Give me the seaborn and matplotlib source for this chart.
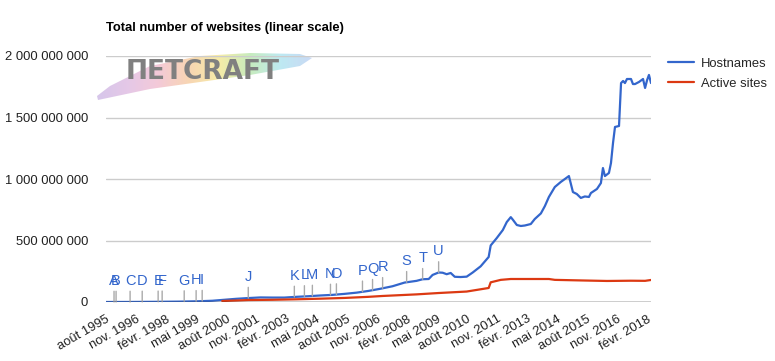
import numpy as np
import pandas as pd
import matplotlib
matplotlib.use("Agg")
import matplotlib.pyplot as plt
import matplotlib.dates as mdates
from matplotlib.colors import LinearSegmentedColormap
from matplotlib.patches import Polygon
import seaborn as sns

# Données (millions)
host_dates = ["1995-08", "1996-08", "1997-08", "1998-08", "1999-06", "2000-01", "2000-07",
              "2001-01", "2001-07", "2002-01", "2002-07", "2003-01", "2003-07", "2004-01",
              "2004-07", "2005-01", "2005-07", "2006-01", "2006-07", "2007-01", "2007-07",
              "2008-01", "2008-07", "2008-10", "2009-01", "2009-03", "2009-06", "2009-08",
              "2009-10", "2009-12", "2010-02", "2010-05", "2010-08", "2010-11", "2011-03",
              "2011-07", "2011-08", "2011-11", "2012-02", "2012-04", "2012-06", "2012-07",
              "2012-09", "2012-11", "2013-01", "2013-04", "2013-06", "2013-09", "2013-11",
              "2014-01", "2014-04", "2014-07", "2014-09", "2014-11", "2015-01", "2015-03",
              "2015-05", "2015-07", "2015-09", "2015-10", "2016-01", "2016-03", "2016-04",
              "2016-05", "2016-07", "2016-08", "2016-09", "2016-10", "2016-12", "2017-01",
              "2017-02", "2017-03", "2017-04", "2017-06", "2017-07", "2017-08", "2017-10",
              "2017-12", "2018-01", "2018-02", "2018-03", "2018-04"]
host_values = [0.02, 0.3, 1.4, 3, 6, 10, 18,
               26, 32, 37, 36, 36, 42, 47,
               53, 58, 66, 76, 90, 108, 128,
               158, 172, 185, 187, 220, 240, 238,
               226, 236, 205, 203, 206, 240, 290,
               366, 460, 520, 585, 650, 690, 670,
               626, 618, 622, 634, 675, 720, 780,
               854, 935, 976, 1000, 1024, 894, 878,
               846, 858, 854, 886, 919, 967, 1089,
               1024, 1049, 1130, 1293, 1423, 1431, 1780,
               1797, 1780, 1813, 1813, 1772, 1772, 1789,
               1813, 1740, 1805, 1846, 1780]

active_dates = ["2000-06", "2001-01", "2001-07", "2002-07", "2003-07", "2004-07", "2005-07",
                "2006-07", "2007-02", "2008-07", "2009-06", "2010-08", "2011-07", "2011-08",
                "2012-01", "2012-06", "2013-06", "2014-01", "2014-04", "2015-06", "2016-06",
                "2017-06", "2018-01", "2018-04"]
active_values = [8, 12, 16, 18, 22, 27, 33,
                 42, 49, 62, 73, 85, 114, 160,
                 180, 187, 187, 187, 180, 175, 171,
                 173, 172, 179]

letters = list("ABCDEFGHIJKLMNOPQRSTU")
letter_dates = ["1995-12", "1996-01", "1996-08", "1997-02", "1997-10", "1997-12", "1998-11",
                "1999-05", "1999-08", "2001-07", "2003-06", "2003-11", "2004-03", "2004-12",
                "2005-03", "2006-04", "2006-09", "2007-02", "2008-02", "2008-10", "2009-06"]

tick_dates = pd.date_range("1995-08-01", periods=19, freq="15MS")
tick_labels = ["août 1995", "nov. 1996", "févr. 1998", "mai 1999", "août 2000", "nov. 2001",
               "févr. 2003", "mai 2004", "août 2005", "nov. 2006", "févr. 2008", "mai 2009",
               "août 2010", "nov. 2011", "févr. 2013", "mai 2014", "août 2015", "nov. 2016",
               "févr. 2018"]
y_ticks = [0, 500e6, 1000e6, 1500e6, 2000e6]

sns.set_theme(style="white")
plt.rcParams["font.family"] = ["Liberation Sans", "DejaVu Sans"]

df = pd.concat([
    pd.DataFrame({"date": pd.to_datetime(host_dates), "n": np.array(host_values) * 1e6,
                  "serie": "Hostnames"}),
    pd.DataFrame({"date": pd.to_datetime(active_dates), "n": np.array(active_values) * 1e6,
                  "serie": "Active sites"}),
])

fig = plt.figure(figsize=(7.75, 3.61), dpi=100)

# logo Netcraft en filigrane (coordonnées en pixels)
ov = fig.add_axes([0, 0, 1, 1], zorder=0)
ov.set_xlim(0, 775)
ov.set_ylim(361, 0)
ov.axis("off")
rainbow = LinearSegmentedColormap.from_list(
    "rb", ["#c9b4e4", "#dcb6e0", "#f0b8cc", "#f6c89a", "#f3e58a", "#b5e6a8",
           "#a8e2ee", "#b8cdf2"])
grad = ov.imshow(np.linspace(0, 1, 256)[None, :], extent=(96, 312, 102, 48),
                 cmap=rainbow, aspect="auto", alpha=0.75)
stroke = Polygon([(110, 86), (150, 66), (200, 56), (250, 53), (300, 54), (312, 58),
                  (300, 66), (250, 75), (200, 82), (150, 89), (98, 100), (97, 96)],
                 closed=True, transform=ov.transData, facecolor="none", edgecolor="none")
ov.add_patch(stroke)
grad.set_clip_path(stroke)
ov.text(126, 72, "ΠETCRAFT", fontsize=19, fontweight="bold", color="#808080",
        va="center", ha="left", family="DejaVu Sans")

ax = fig.add_axes([106 / 775, 1 - 302 / 361, 545 / 775, 246 / 361], zorder=1)
ax.patch.set_alpha(0)

sns.lineplot(data=df, x="date", y="n", hue="serie", ax=ax, linewidth=1.6,
             palette={"Hostnames": "#3366cc", "Active sites": "#dc3912"})

# annotations A..U
hx = mdates.date2num(pd.to_datetime(host_dates))
for lt, d in zip(letters, letter_dates):
    xd = mdates.date2num(pd.Timestamp(d))
    yv = np.interp(xd, hx, np.array(host_values) * 1e6)
    ax.annotate(lt, xy=(xd, yv), xytext=(0, 14), textcoords="offset pixels",
                ha="center", va="bottom", fontsize=10.5, color="#3366cc",
                arrowprops=dict(arrowstyle="-", color="#aaaaaa", lw=1,
                                shrinkA=0, shrinkB=0, relpos=(0.5, 0)))

ax.set_xlim(pd.Timestamp("1995-08-01"), pd.Timestamp("2018-04-01"))
ax.set_ylim(0, 2000e6)
ax.set_yticks(y_ticks)
ax.set_yticklabels([f"{v:,.0f}".replace(",", " ") for v in y_ticks], fontsize=9.4,
                   color="#222222")
ax.set_xticks(tick_dates)
ax.set_xticklabels(tick_labels, rotation=30, ha="right", va="top",
                   rotation_mode="anchor", fontsize=9.4, color="#222222")
ax.tick_params(axis="y", length=0, pad=13)
ax.tick_params(axis="x", length=0, pad=8)
ax.grid(axis="y", color="#cccccc", linewidth=1)
ax.grid(axis="x", visible=False)
for s in ["top", "right", "left", "bottom"]:
    ax.spines[s].set_visible(False)
ax.axhline(0, color="#333333", linewidth=1, zorder=3)
ax.set_xlabel("")
ax.set_ylabel("")

ax.legend(loc="upper left", bbox_to_anchor=(1.01, 1.04), frameon=False, fontsize=9.4,
          handlelength=2.0, handletextpad=0.5, labelspacing=0.6)

fig.text(106 / 775, 1 - 28 / 361, "Total number of websites (linear scale)",
         fontsize=9.4, fontweight="bold", color="#000000", va="center", ha="left")

fig.savefig("out.png", dpi=100)
